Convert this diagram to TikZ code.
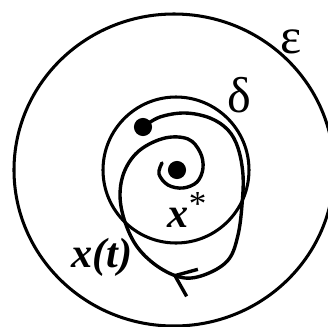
\documentclass[tikz,border=0pt]{standalone}
\usepackage{fontspec}
\setmainfont{Liberation Serif}
\usetikzlibrary{arrows.meta,decorations.markings}

\begin{document}
\begin{tikzpicture}[
  x=0.3mm, y=-0.3mm,
  ring/.style={draw=black, line width=2.6pt},
  orbit/.style={draw=black, line width=2.9pt, line cap=round,
                postaction={decorate},
                decoration={markings, mark=at position 0.483 with
                  {\arrow{Straight Barb[length=16pt, width=25pt]}}}},
  dotnode/.style={circle, fill=black, minimum size=15.5pt, inner sep=0pt},
  greeklabel/.style={font=\fontsize{43}{46}\selectfont, inner sep=0pt},
  varlabel/.style={font=\fontsize{36}{40}\selectfont\bfseries\itshape,
                   inner sep=0pt}
]
  \useasboundingbox (0,0) rectangle (328,326);
  \clip (0,0) rectangle (328,326);

  % the two neighbourhoods
  \draw[ring] (174,170) ellipse [x radius=160, y radius=156];
  \draw[ring] (176,170) circle [radius=73];

  \node[dotnode] (xstar) at (177,170) {};
  \node[dotnode] (x0)    at (143,127) {};

  \node[greeklabel] (eps) at (291,42) {ε};
  \node[greeklabel] (del) at (239,95) {δ};
  \node[varlabel] (xstarlbl) at (187,210)
    {x\raisebox{0.28em}{\fontsize{30}{30}\normalfont *}};
  \node[varlabel] (xtlbl)    at (102,257) {x(t)};

  % trajectory spiralling in
  \draw[orbit] plot[smooth, tension=0.6] coordinates {
    (x0.center) (160,117) (185,113) (210,118) (228,130) (238,148)
    (243,175) (242,205) (238,235) (229,259) (209,273) (185,278)
    (160,268) (138,248) (125,222) (120,195) (125,170) (140,150)
    (165,138) (188,139) (200,152) (203,168) (197,182) (183,188)
    (168,185) (159,174) (162,163)};
\end{tikzpicture}
\end{document}
